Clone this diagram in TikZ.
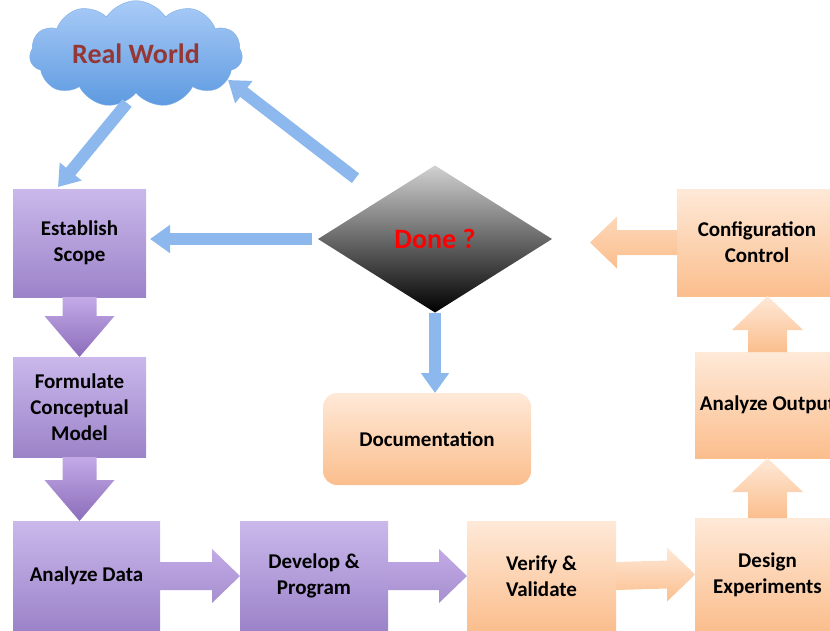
\documentclass[tikz,border=0pt]{standalone}
\usepackage{fontspec}
\setmainfont{Carlito}
\usetikzlibrary{
  arrows.meta,
  calc,
  shapes.geometric,
  shapes.symbols,
}
\definecolor{lavtop}{HTML}{CAB8EB}
\definecolor{lavbot}{HTML}{9C83C9}
\definecolor{plarrtop}{HTML}{C3AAE7}
\definecolor{plarrbot}{HTML}{8B6CBA}
\definecolor{peachtop}{HTML}{FEE9D8}
\definecolor{peachbot}{HTML}{FBBE8D}
\definecolor{flowblue}{HTML}{8DB8EE}
\definecolor{cloudtop}{HTML}{A9CBF7}
\definecolor{cloudbot}{HTML}{5D9AE0}
\definecolor{worldred}{HTML}{953735}
\tikzset{
  >={Triangle[length=20pt,width=27pt]},
  box/.style={minimum width=133pt, minimum height=108pt, inner sep=0pt,
    outer sep=0pt, align=center,
    font=\fontsize{21}{26}\selectfont\bfseries},
  purplebox/.style={box, top color=lavtop, bottom color=lavbot},
  orangebox/.style={box, top color=peachtop, bottom color=peachbot},
  flow/.style={->, draw=flowblue, line width=12pt},
  purplearrow/.style={top color=plarrtop, bottom color=plarrbot},
  orangearrow/.style={top color=peachtop, bottom color=peachbot},
}

\begin{document}
\begin{tikzpicture}[x=1pt, y=-1pt]
  \useasboundingbox (0,0) rectangle (830,630);

  % left column
  \node[purplebox] (es) at (79.5,243) {Establish\\Scope};
  \node[purplebox, minimum height=100pt] (fc) at (79.5,407) {Formulate\\Conceptual\\Model};
  \node[purplebox, minimum width=147pt, minimum height=110pt] (ad) at (86.5,576) {Analyze Data};

  % bottom row
  \node[purplebox, minimum width=148pt, minimum height=110pt] (dp) at (314,576) {Develop \&\\Program};
  \node[orangebox, minimum width=149pt, minimum height=110pt] (vv) at (541.5,576) {Verify \&\\Validate};
  \node[orangebox, minimum width=145pt, minimum height=113pt] (de) at (767.5,574.5) {Design\\Experiments};

  % right column
  \node[orangebox, minimum width=145pt, minimum height=106pt] (ao) at (767.5,405) {Analyze Output};
  \node[orangebox, minimum width=160pt, minimum height=107pt] (cc) at (757,242.5) {Configuration\\Control};

  % middle
  \node[orangebox, minimum width=208pt, minimum height=92pt, rounded corners=14pt] (doc) at (427,439) {Documentation};
  \node[diamond, minimum width=234pt, minimum height=147pt, inner sep=0pt, outer sep=0pt,
    top color=black!18, bottom color=black, text=red,
    font=\fontsize{28}{32}\selectfont\bfseries] (done) at (435,239) {Done ?};
  \node[cloud, cloud puffs=11, cloud puff arc=115, aspect=2.2,
    minimum width=213pt, minimum height=98pt, inner sep=0pt,
    draw=cloudbot!80, top color=cloudtop, bottom color=cloudbot, text=worldred,
    font=\fontsize{28}{32}\selectfont\bfseries] (cloud) at (136,54) {Real World};

  \coordinate (adtop) at (fc.south |- ad.north);
  \coordinate (cctop) at (ao.north |- cc.south);
  \coordinate (ccend) at ($(cc.west)+(-87,0)$);

  % fat arrows down the left column
  \shade[purplearrow] ($(es.south)+(-17,0)$) -- ($(fc.north)+(-17,-41)$)
    -- ($(fc.north)+(-35,-41)$) -- (fc.north) -- ($(fc.north)+(35,-41)$)
    -- ($(fc.north)+(17,-41)$) -- ($(es.south)+(17,0)$) -- cycle;
  \shade[purplearrow] ($(fc.south)+(-17,0)$) -- ($(adtop)+(-17,-41)$)
    -- ($(adtop)+(-35,-41)$) -- (adtop) -- ($(adtop)+(35,-41)$)
    -- ($(adtop)+(17,-41)$) -- ($(fc.south)+(17,0)$) -- cycle;

  % fat arrows along the bottom row
  \shade[top color=plarrtop, bottom color=lavbot!90] ($(ad.east)+(0,-14)$) -- ($(dp.west)+(-28,-14)$)
    -- ($(dp.west)+(-28,-27)$) -- (dp.west) -- ($(dp.west)+(-28,27)$)
    -- ($(dp.west)+(-28,14)$) -- ($(ad.east)+(0,14)$) -- cycle;
  \shade[top color=plarrtop, bottom color=lavbot!90] ($(dp.east)+(0,-14)$) -- ($(vv.west)+(-28,-14)$)
    -- ($(vv.west)+(-28,-27)$) -- (vv.west) -- ($(vv.west)+(-28,27)$)
    -- ($(vv.west)+(-28,14)$) -- ($(dp.east)+(0,14)$) -- cycle;
  \shade[orangearrow] ($(vv.east)+(0,-14)$) -- ($(de.west)+(-28,-14)$)
    -- ($(de.west)+(-28,-27)$) -- (de.west) -- ($(de.west)+(-28,27)$)
    -- ($(de.west)+(-28,14)$) -- ($(vv.east)+(0,14)$) -- cycle;

  % fat arrows up the right column
  \shade[orangearrow] ($(de.north)+(-19.5,0)$) -- ($(ao.south)+(-19.5,34)$)
    -- ($(ao.south)+(-35.5,34)$) -- (ao.south) -- ($(ao.south)+(35.5,34)$)
    -- ($(ao.south)+(19.5,34)$) -- ($(de.north)+(19.5,0)$) -- cycle;
  \shade[orangearrow] ($(ao.north)+(-19.5,0)$) -- ($(cctop)+(-19.5,34)$)
    -- ($(cctop)+(-35.5,34)$) -- (cctop) -- ($(cctop)+(35.5,34)$)
    -- ($(cctop)+(19.5,34)$) -- ($(ao.north)+(19.5,0)$) -- cycle;
  \shade[top color=peachtop!60!peachbot, bottom color=peachbot] ($(cc.west)+(0,-12.5)$) -- ($(ccend)+(27,-12.5)$)
    -- ($(ccend)+(27,-26)$) -- (ccend) -- ($(ccend)+(27,26)$)
    -- ($(ccend)+(27,12.5)$) -- ($(cc.west)+(0,12.5)$) -- cycle;

  % decision flows
  \draw[flow] ($(cloud.center)+(-9,49)$) -- ($(es.north west)+(45,-2)$);
  \draw[flow] ($(done.north west)+(-21,-24)$) -- ($(cloud.center)+(92,26)$);
  \draw[flow] ($(done.west)+(-6,0)$) -- ($(es.east |- done.west)+(4,0)$);
  \draw[flow] (done.south) -- (done.south |- doc.north);
\end{tikzpicture}
\end{document}
